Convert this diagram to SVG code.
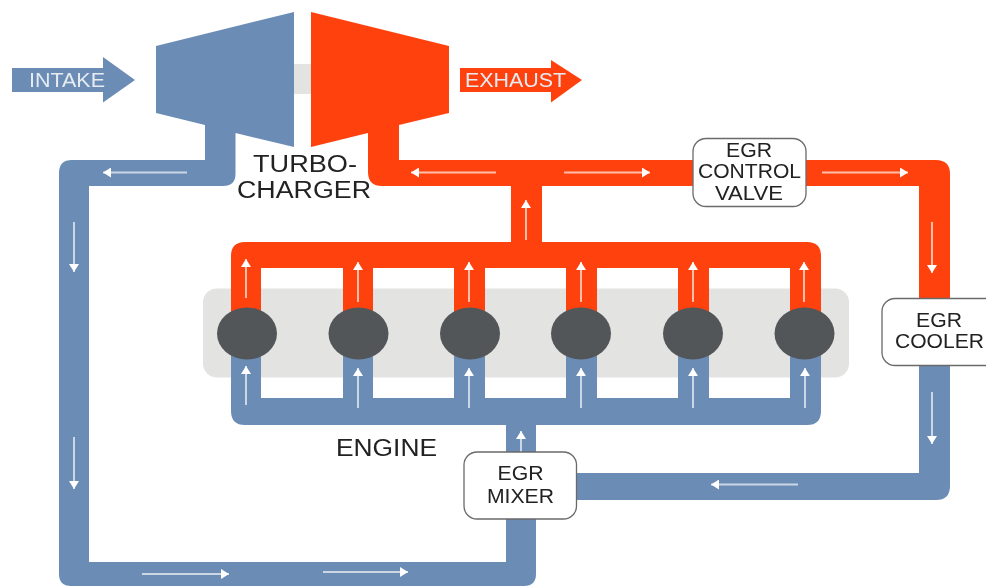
<svg xmlns="http://www.w3.org/2000/svg" width="986" height="586" viewBox="0 0 986 586">
<style>
.blue{fill:#6b8cb5}
.red{fill:#ff4310}
.cyl{fill:#525659}
.box{fill:#fff;stroke:#6a6a6a;stroke-width:1.3}
text{font-family:"Liberation Sans",Arial,sans-serif;fill:#222;font-size:19.5px}
.big{font-size:23.5px}
.light{font-size:20px;fill:#e6ebf2}
.flow{stroke:#fff;stroke-opacity:.65;stroke-width:2;fill:none;marker-end:url(#tip)}
</style>
<defs>
<marker id="tip" markerUnits="userSpaceOnUse" markerWidth="9" markerHeight="10" refX="8" refY="5" orient="auto"><path d="M0,0 L8,5 L0,10 Z" fill="#fff"/></marker>
<filter id="soft" x="0" y="0" width="100%" height="100%"><feGaussianBlur stdDeviation="0.45"/></filter>
</defs>
<rect width="986" height="586" fill="#fff"/>
<g filter="url(#soft)">
<g id="engine-block">
<rect x="203" y="288.500" width="646" height="89" rx="14" fill="#e3e3e1"/>
<text class="big" x="336" y="456" textLength="101" lengthAdjust="spacingAndGlyphs">ENGINE</text>
</g>
<g id="shaft"><rect x="294" y="64" width="17" height="30" fill="#e3e3e1"/></g>
<g id="connectors">
<path class="blue" d="M205,120 V160 H72 Q59,160 59,173 V574 Q59,586 71,586 H524 Q536,586 536,574 V510 H506 V562 H89 V186 H223 Q235.500,186 235.500,174 V130 Z"/>
<path class="red" d="M368,130 V172 Q368,186 382,186 H919 V300 H950 V174 Q950,160 936,160 H399 V120 Z"/>
<path class="red" d="M511,180 H542 V246 H511 Z"/>
<path class="red" d="M231,320 V256 Q231,242 245,242 H807 Q821,242 821,256 V320 H790 V268 H709 V320 H678 V268 H597 V320 H566 V268 H485 V320 H454 V268 H373 V320 H343 V268 H261 V320 Z"/>
<path class="blue" d="M231,340 V411 Q231,425 245,425 H807 Q821,425 821,411 V340 H790 V398 H709 V340 H678 V398 H597 V340 H566 V398 H485 V340 H454 V398 H373 V340 H343 V398 H261 V340 Z"/>
<path class="blue" d="M506,420 H536 V455 H506 Z"/>
<path class="blue" d="M919,360 H950 V486 Q950,500 936,500 H570 V473 H919 Z"/>
<g>
<line class="flow" x1="187" y1="172.500" x2="103" y2="172.500"/>
<line class="flow" x1="74" y1="222" x2="74" y2="272"/>
<line class="flow" x1="74" y1="437" x2="74" y2="489"/>
<line class="flow" x1="142" y1="574" x2="229" y2="574"/>
<line class="flow" x1="323" y1="572" x2="408" y2="572"/>
<line class="flow" x1="496" y1="172.500" x2="411" y2="172.500"/>
<line class="flow" x1="564" y1="172.500" x2="650" y2="172.500"/>
<line class="flow" x1="822" y1="172.500" x2="908" y2="172.500"/>
<line class="flow" x1="932" y1="222" x2="932" y2="273"/>
<line class="flow" x1="526" y1="240" x2="526" y2="200"/>
<line class="flow" x1="246" y1="298" x2="246" y2="259"/>
<line class="flow" x1="358" y1="302" x2="358" y2="262"/>
<line class="flow" x1="469" y1="302" x2="469" y2="262"/>
<line class="flow" x1="581" y1="302" x2="581" y2="262"/>
<line class="flow" x1="693" y1="302" x2="693" y2="262"/>
<line class="flow" x1="804" y1="302" x2="804" y2="262"/>
<line class="flow" x1="246" y1="405" x2="246" y2="366"/>
<line class="flow" x1="358" y1="408" x2="358" y2="368"/>
<line class="flow" x1="469" y1="408" x2="469" y2="368"/>
<line class="flow" x1="581" y1="408" x2="581" y2="368"/>
<line class="flow" x1="693" y1="408" x2="693" y2="368"/>
<line class="flow" x1="805" y1="408" x2="805" y2="368"/>
<line class="flow" x1="521" y1="452" x2="521" y2="431"/>
<line class="flow" x1="932" y1="392" x2="932" y2="444"/>
<line class="flow" x1="798" y1="484.500" x2="711" y2="484.500"/>
</g>
</g>
<g id="intake">
<polygon class="blue" points="12,68 103,68 103,57 135,80 103,102.500 103,92 12,92"/>
<text class="light" x="29" y="86.500" textLength="76" lengthAdjust="spacingAndGlyphs">INTAKE</text>
</g>
<g id="compressor"><polygon class="blue" points="156,46 294,12 294,147 235.500,133 205,125 156,113"/></g>
<g id="turbine"><polygon class="red" points="311,12 449,46 449,113 399,125 368,133 311,147"/></g>
<g id="exhaust">
<polygon class="red" points="460,68 551,68 551,60 582,80 551,102.500 551,92 460,92"/>
<text class="light" x="465" y="86.500" textLength="101" lengthAdjust="spacingAndGlyphs">EXHAUST</text>
</g>
<g id="turbocharger-label">
<text class="big" x="253" y="172" textLength="104" lengthAdjust="spacingAndGlyphs">TURBO-</text>
<text class="big" x="237" y="198" textLength="134" lengthAdjust="spacingAndGlyphs">CHARGER</text>
</g>
<g id="cylinder-1"><ellipse class="cyl" cx="247" cy="333.500" rx="30" ry="26"/></g>
<g id="cylinder-2"><ellipse class="cyl" cx="358.500" cy="333.500" rx="30" ry="26"/></g>
<g id="cylinder-3"><ellipse class="cyl" cx="470" cy="333.500" rx="30" ry="26"/></g>
<g id="cylinder-4"><ellipse class="cyl" cx="581" cy="333.500" rx="30" ry="26"/></g>
<g id="cylinder-5"><ellipse class="cyl" cx="693" cy="333.500" rx="30" ry="26"/></g>
<g id="cylinder-6"><ellipse class="cyl" cx="804.500" cy="333.500" rx="30" ry="26"/></g>
<g id="egr-control-valve">
<rect class="box" x="693" y="138.500" width="113" height="68" rx="13"/>
<text x="726" y="157" textLength="46" lengthAdjust="spacingAndGlyphs">EGR</text>
<text x="698" y="178" textLength="103" lengthAdjust="spacingAndGlyphs">CONTROL</text>
<text x="715" y="200" textLength="68" lengthAdjust="spacingAndGlyphs">VALVE</text>
</g>
<g id="egr-cooler">
<rect class="box" x="882" y="298.500" width="120" height="67" rx="13"/>
<text x="916" y="327" textLength="46" lengthAdjust="spacingAndGlyphs">EGR</text>
<text x="895" y="348" textLength="89" lengthAdjust="spacingAndGlyphs">COOLER</text>
</g>
<g id="egr-mixer">
<rect class="box" x="464" y="452" width="112.500" height="67" rx="13"/>
<text x="497.500" y="480" textLength="46" lengthAdjust="spacingAndGlyphs">EGR</text>
<text x="487" y="503" textLength="67" lengthAdjust="spacingAndGlyphs">MIXER</text>
</g>
</g>
</svg>
